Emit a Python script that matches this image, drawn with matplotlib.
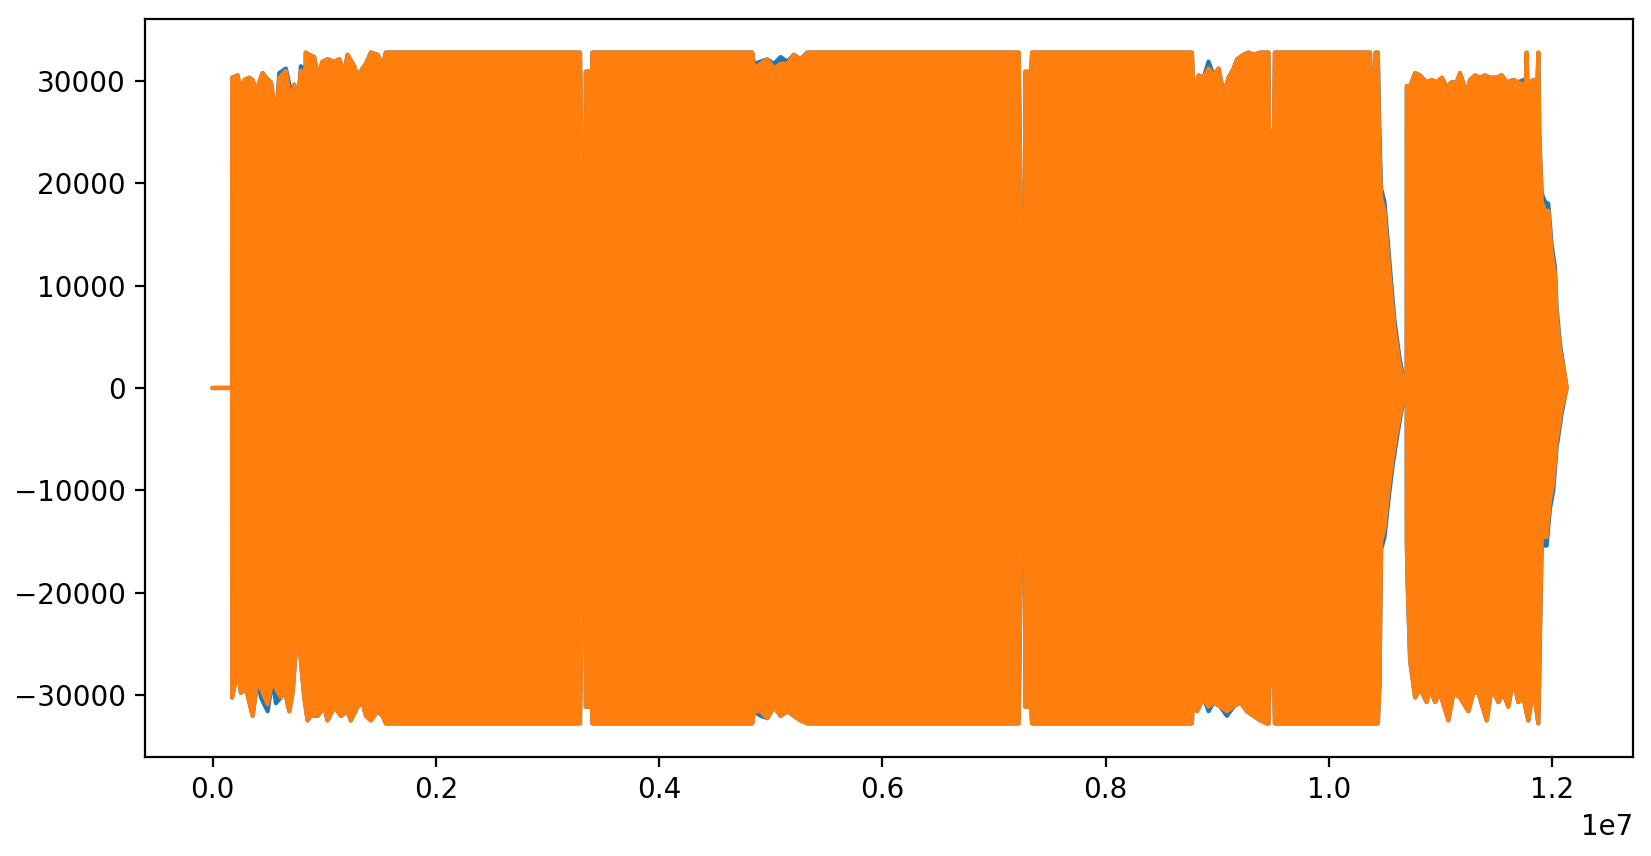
import numpy as np
import matplotlib
matplotlib.use('Agg')
import matplotlib.pyplot as plt

# stereo waveform, drawn as its min/max envelope (positions in million samples)
t_top = [0.000, 0.174, 0.175, 0.224, 0.254, 0.284, 0.329, 0.359, 0.389, 0.418,
         0.448, 0.478, 0.523, 0.547, 0.567, 0.597, 0.657, 0.702, 0.732, 0.762,
         0.791, 0.826, 0.830, 0.834, 0.866, 0.910, 0.941, 0.985, 1.030, 1.090,
         1.135, 1.179, 1.209, 1.269, 1.299, 1.329, 1.373, 1.418, 1.478, 1.523,
         1.552, 3.292, 3.307, 3.325, 3.331, 3.342, 3.343, 3.400, 3.403, 4.835,
         4.850, 4.910, 4.970, 5.029, 5.089, 5.149, 5.208, 5.268, 5.328, 5.650,
         5.656, 5.662, 7.222, 7.237, 7.255, 7.262, 7.281, 7.282, 7.333, 7.342,
         8.774, 8.789, 8.834, 8.879, 8.923, 8.968, 9.013, 9.058, 9.103, 9.148,
         9.178, 9.237, 9.282, 9.327, 9.387, 9.460, 9.465, 9.510, 9.517, 10.370,
         10.375, 10.410, 10.420, 10.440, 10.452, 10.469, 10.499, 10.529, 10.559, 10.588,
         10.633, 10.687, 10.698, 10.699, 10.729, 10.774, 10.818, 10.878, 10.923, 10.968,
         11.013, 11.057, 11.102, 11.147, 11.176, 11.236, 11.266, 11.311, 11.355, 11.400,
         11.445, 11.505, 11.550, 11.594, 11.654, 11.698, 11.743, 11.766, 11.773, 11.780,
         11.803, 11.833, 11.870, 11.878, 11.886, 11.908, 11.937, 11.967, 11.997, 12.027,
         12.042, 12.071, 12.116, 12.132]
right_top = [0, 0, 30313, 30537, 28969, 30089, 30313, 30089, 28969, 29865,
             30761, 30313, 29865, 28073, 25608, 30313, 30985, 27849, 29641, 27400,
             30985, 30985, 21800, 32767, 32554, 32330, 30537, 31881, 32105, 31881,
             32105, 30761, 32554, 31433, 30313, 30985, 31657, 32767, 32554, 31433,
             32767, 32767, 20700, 9860, 0, 0, 30900, 30900, 32767, 32767,
             31209, 31657, 32105, 31209, 31657, 31657, 32554, 32105, 32767, 32767,
             30313, 32767, 32767, 20700, 9000, 0, 0, 30900, 30900, 32767,
             32767, 28969, 30537, 30313, 31209, 30537, 31209, 28745, 30313, 31209,
             32105, 32554, 32767, 32554, 32767, 32767, 25100, 25100, 32767, 32767,
             30500, 30500, 32767, 32767, 24000, 18600, 17300, 13300, 9400, 5900,
             2500, 0, 0, 29500, 29417, 30761, 30537, 29865, 30089, 29865,
             30313, 29417, 29865, 29865, 30761, 28745, 30089, 30537, 30313, 30537,
             30313, 30313, 30537, 29865, 30089, 29865, 29641, 29700, 32767, 29800,
             29865, 30089, 30000, 32767, 25000, 18214, 17318, 17318, 13285, 11044,
             7012, 3876, 1188, 0]
left_top = [0, 0, 30313, 30537, 28969, 30089, 30313, 30089, 28969, 29865,
            30761, 30313, 29865, 28073, 25608, 30761, 31209, 28900, 29641, 27400,
            31433, 30985, 21800, 32767, 32554, 32330, 30537, 31881, 32105, 31881,
            32105, 30761, 32554, 31433, 30313, 30985, 31657, 32767, 32554, 31433,
            32767, 32767, 20700, 9860, 0, 0, 30900, 30900, 32767, 32767,
            31657, 31881, 32105, 31657, 32330, 31881, 32554, 32105, 32767, 32767,
            30313, 32767, 32767, 20700, 9000, 0, 0, 30900, 30900, 32767,
            32767, 28969, 30537, 30313, 31881, 30537, 31209, 28745, 30313, 31209,
            32105, 32554, 32767, 32554, 32767, 32767, 25100, 25100, 32767, 32767,
            30500, 30500, 32767, 32767, 26000, 19500, 18200, 14300, 10400, 6700,
            3000, 0, 0, 29500, 29417, 30761, 30537, 29865, 30089, 29865,
            30313, 29417, 29865, 29865, 30761, 28745, 30089, 30537, 30313, 30537,
            30313, 30313, 30537, 29865, 30089, 29865, 30089, 29700, 32767, 29800,
            29865, 30089, 30000, 32767, 25000, 19000, 18200, 18000, 14000, 11800,
            7800, 4400, 1188, 0]

t_bot = [0.000, 0.174, 0.175, 0.224, 0.254, 0.299, 0.359, 0.403, 0.433, 0.493,
         0.538, 0.567, 0.612, 0.642, 0.687, 0.717, 0.762, 0.791, 0.821, 0.851,
         0.881, 0.941, 1.000, 1.030, 1.090, 1.149, 1.209, 1.239, 1.299, 1.343,
         1.373, 1.418, 1.478, 1.523, 1.552, 3.292, 3.307, 3.325, 3.331, 3.342,
         3.343, 3.400, 3.403, 4.835, 4.850, 4.910, 4.970, 5.029, 5.089, 5.149,
         5.208, 5.268, 5.328, 7.222, 7.237, 7.255, 7.262, 7.281, 7.282, 7.333,
         7.342, 8.774, 8.789, 8.820, 8.879, 8.923, 8.968, 9.028, 9.088, 9.148,
         9.207, 9.267, 9.327, 9.387, 9.445, 9.462, 9.467, 9.512, 9.517, 10.440,
         10.455, 10.469, 10.499, 10.543, 10.574, 10.619, 10.687, 10.698, 10.699, 10.705,
         10.729, 10.774, 10.818, 10.878, 10.908, 10.953, 10.997, 11.072, 11.117, 11.176,
         11.251, 11.296, 11.341, 11.415, 11.460, 11.520, 11.564, 11.609, 11.654, 11.698,
         11.743, 11.788, 11.833, 11.878, 11.908, 11.952, 11.982, 12.012, 12.042, 12.087,
         12.132]
right_bot = [0, 0, -30237, -27548, -29789, -29341, -32030, -28444, -29341, -30909,
             -28444, -29341, -30237, -29341, -31581, -29789, -23067, -26652, -30237, -32478,
             -32030, -32030, -31133, -32478, -31133, -32030, -31581, -32478, -31133, -30685,
             -32030, -32478, -31581, -32030, -32768, -32768, -20700, -9860, 0, 0,
             -31140, -31140, -32768, -32768, -31581, -31581, -32254, -31133, -32030, -31581,
             -32030, -32478, -32768, -32768, -20700, -9000, 0, 0, -31140, -31140,
             -32768, -32768, -29341, -31581, -30237, -31133, -30685, -31133, -31581, -31133,
             -30685, -31581, -32030, -32478, -32768, -32768, -29000, -29000, -32768, -32768,
             -29000, -15000, -13700, -9300, -6700, -3700, 0, 0, -15000, -18587,
             -26652, -30237, -29341, -30685, -29341, -30685, -29789, -32478, -29789, -30237,
             -31581, -29789, -29789, -32478, -29341, -30685, -29789, -31133, -28444, -30685,
             -30237, -32478, -29341, -32768, -14554, -14554, -10969, -9177, -5144, -2008,
             0]
left_bot = [0, 0, -30237, -27548, -29789, -29341, -32030, -28444, -30237, -31581,
            -28444, -30800, -30237, -29341, -31581, -29789, -23067, -26652, -30237, -32478,
            -32030, -32030, -31133, -32478, -31133, -32030, -31581, -32478, -31133, -30685,
            -32030, -32478, -31581, -32030, -32768, -32768, -20700, -9860, 0, 0,
            -31140, -31140, -32768, -32768, -31581, -32030, -32254, -31133, -32030, -31581,
            -32030, -32478, -32768, -32768, -20700, -9000, 0, 0, -31140, -31140,
            -32768, -32768, -29341, -31581, -30237, -31581, -30685, -31133, -32030, -31133,
            -30685, -31581, -32030, -32478, -32768, -32768, -29000, -29000, -32768, -32768,
            -29000, -15800, -14600, -10200, -7500, -4300, 0, 0, -15000, -18587,
            -26652, -30237, -29341, -30685, -29341, -30685, -29789, -32478, -29789, -30237,
            -31581, -29789, -29789, -32478, -29341, -30685, -29789, -31133, -28444, -30685,
            -30237, -32478, -29341, -32768, -15400, -15400, -11800, -10000, -5800, -2500,
            0]

fig = plt.figure(figsize=(8.255, 4.28), dpi=200)
ax = fig.add_axes([0.0878, 0.1157, 0.9013, 0.8621])

tt = np.array(t_top) * 1e6
tb = np.array(t_bot) * 1e6
# channel 0 (blue) underneath, channel 1 (orange) on top
for top, bot, c in [(left_top, left_bot, 'tab:blue'), (right_top, right_bot, 'tab:orange')]:
    xs = np.concatenate([tt, tb[::-1]])
    ys = np.concatenate([top, bot[::-1]])
    ax.fill(xs, ys, facecolor=c, edgecolor=c, linewidth=1.5, joinstyle='round')

ax.set_xlim(-0.606e6, 12.726e6)
ax.set_ylim(-36044, 36043)

plt.savefig('out.png', dpi=200)
